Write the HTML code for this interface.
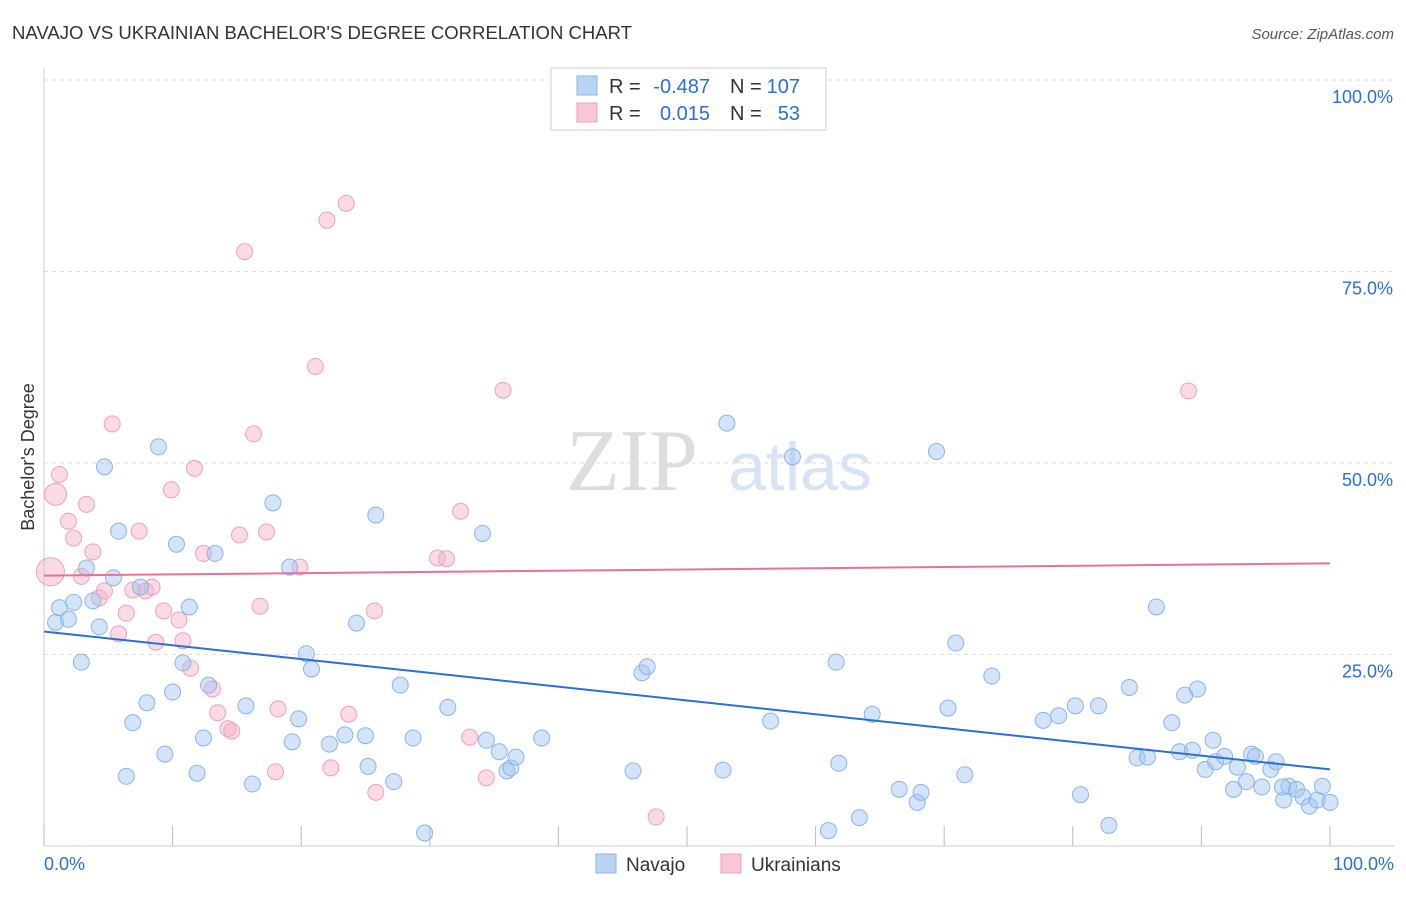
<!DOCTYPE html>
<html><head><meta charset="utf-8"><style>
body{margin:0;background:#fff;font-family:"Liberation Sans",sans-serif;}
svg text{font-family:"Liberation Sans",sans-serif;}
</style></head><body>
<svg id="chart" width="1406" height="892" xmlns="http://www.w3.org/2000/svg">
<text x="12" y="39" font-size="18" fill="#333" textLength="620" lengthAdjust="spacingAndGlyphs">NAVAJO VS UKRAINIAN BACHELOR'S DEGREE CORRELATION CHART</text>
<text x="1394" y="39" font-size="15" fill="#555" font-style="italic" text-anchor="end">Source: ZipAtlas.com</text>
<text x="34" y="457" font-size="18" fill="#333" text-anchor="middle" transform="rotate(-90 34 457)">Bachelor's Degree</text>
<g><text x="632" y="490" font-size="88" fill="#ddd" text-anchor="middle" style="font-family:'Liberation Serif',serif">ZIP</text><text x="800" y="490" font-size="68" fill="#d6e4f5" text-anchor="middle">atlas</text></g>
<g id="grid"></g><g id="pts"></g><g id="lines"></g>
<g>
<rect x="551" y="68" width="275" height="62" fill="#fff" stroke="#ddd" stroke-width="1.5"/>
<rect x="577" y="76" width="20" height="19" fill="#b9d3f5" stroke="#8ab4e8"/>
<rect x="577" y="103" width="20" height="19" fill="#f8c6d6" stroke="#f0a0b8"/>
<text x="609" y="93" font-size="20" fill="#333">R =</text>
<text x="710" y="93" font-size="20" fill="#2a6fd6" text-anchor="end">-0.487</text>
<text x="730" y="93" font-size="20" fill="#333">N =</text>
<text x="800" y="93" font-size="20" fill="#2a6fd6" text-anchor="end">107</text>
<text x="609" y="120" font-size="20" fill="#333">R =</text>
<text x="710" y="120" font-size="20" fill="#2a6fd6" text-anchor="end">0.015</text>
<text x="730" y="120" font-size="20" fill="#333">N =</text>
<text x="800" y="120" font-size="20" fill="#2a6fd6" text-anchor="end">53</text>
</g>
<g>
<rect x="596" y="854" width="20" height="19" fill="#b9d3f5" stroke="#8ab4e8"/>
<text x="626" y="871" font-size="19" fill="#333">Navajo</text>
<rect x="721" y="854" width="20" height="19" fill="#f8c6d6" stroke="#f0a0b8"/>
<text x="751" y="871" font-size="19" fill="#333">Ukrainians</text>
</g>
</svg>
<script>
const navX=[0.9,1.2,1.9,2.3,2.9,3.3,3.8,4.3,4.7,5.4,5.8,6.4,6.9,7.5,8.0,8.9,9.4,10.0,10.3,10.8,11.3,11.9,12.4,12.8,13.3,15.7,16.2,17.8,19.1,19.3,19.8,20.4,20.8,22.2,23.4,24.3,25.0,25.2,25.8,27.2,27.7,28.7,29.6,31.4,34.1,34.4,35.4,36.0,36.3,36.7,38.7,45.8,46.5,46.9,52.8,53.1,56.5,58.2,61.0,61.6,61.8,63.4,64.4,66.5,67.9,68.2,69.4,70.3,70.9,71.6,73.7,77.7,78.9,80.2,80.6,82.0,82.8,84.4,85.0,85.8,86.5,87.7,88.3,88.7,89.3,89.7,90.3,90.9,91.1,91.8,92.5,92.8,93.5,93.9,94.2,94.7,95.4,95.8,96.4,96.8,97.4,97.9,98.4,99.0,99.4,100,96.3];
const navY=[29.2,31.1,29.6,31.8,24.0,36.3,32.0,28.6,49.5,35.0,41.1,9.1,16.1,33.8,18.7,52.1,12.0,20.1,39.4,23.9,31.2,9.5,14.1,21.0,38.2,18.3,8.1,44.8,36.4,13.6,16.6,25.1,23.1,13.3,14.5,29.1,14.4,10.4,43.2,8.4,21.0,14.1,1.7,18.1,40.8,13.8,12.3,9.8,10.2,11.6,14.1,9.8,22.6,23.4,9.9,55.2,16.3,50.8,2.0,24.0,10.8,3.7,17.2,7.4,5.7,7.0,51.5,18.0,26.5,9.3,22.2,16.4,17.0,18.3,6.7,18.3,2.7,20.7,11.5,11.6,31.2,16.1,12.3,19.7,12.5,20.5,10.0,13.8,11.0,11.7,7.4,10.3,8.4,12.0,11.7,7.7,10.0,11.0,6.0,7.8,7.4,6.4,5.2,6.0,7.8,5.7,7.7];
const ukrX=[0.5,0.9,1.2,1.9,2.3,2.9,3.3,3.8,4.3,4.7,5.3,5.8,6.4,6.9,7.4,7.9,8.4,8.7,9.3,9.9,10.5,10.8,11.4,11.7,12.4,13.1,13.5,14.3,14.6,15.2,15.6,16.3,16.8,17.3,18.0,18.2,19.9,21.1,22.0,22.3,23.5,23.7,25.7,25.8,30.6,31.3,32.4,33.1,34.4,35.7,47.6,89.0];
const ukrY=[35.8,45.9,48.5,42.4,40.2,35.2,44.6,38.4,32.4,33.3,55.1,27.7,30.4,33.4,41.1,33.3,33.8,26.6,30.7,46.5,29.5,26.8,23.2,49.3,38.2,20.5,17.4,15.3,15.0,40.6,77.6,53.8,31.3,41.0,9.7,17.9,36.4,62.6,81.7,10.2,83.9,17.2,30.7,7.0,37.6,37.5,43.7,14.2,8.9,59.5,3.8,59.4];
const ukrSize=[14,11];
const navTrend=[28.0,10.0];
const ukrTrend=[35.3,36.9];
const yTicks=[100,75,50,25];
const xTicks=[0,10,20,30,40,50,60,70,80,90,100];
const NS='http://www.w3.org/2000/svg';
const sx=v=>44+v*12.86, sy=v=>846-v*7.66;
function mk(tag,attrs,parent){const e=document.createElementNS(NS,tag);for(const k in attrs)e.setAttribute(k,attrs[k]);parent.appendChild(e);return e;}
const grid=document.getElementById('grid');
const ax=mk('line',{x1:44,y1:68,x2:44,y2:846,stroke:'#ccc'},grid);


const bx=mk('line',{x1:44,y1:846,x2:1394,y2:846,stroke:'#ccc'},grid);


yTicks.forEach(t=>{
 const g=mk('line',{x1:44,y1:sy(t),x2:1394,y2:sy(t),stroke:'#ddd','stroke-dasharray':'4,4'},grid);
 
 
 const l=mk('text',{x:1393,y:sy(t)+23,'font-size':18,fill:'#2a6fd6','text-anchor':'end'},grid);
 l.textContent=t.toFixed(1)+'%';
 
 
});
xTicks.forEach(t=>{
 const k=mk('line',{x1:sx(t),y1:826,x2:sx(t),y2:846,stroke:'#bbb'},grid);
 
 
});
[[0,'0.0%','start',44],[100,'100.0%','end',1394]].forEach(a=>{
 const l=mk('text',{x:a[3],y:870,'font-size':18,fill:'#2a6fd6','text-anchor':a[2]},grid);
 l.textContent=a[1];
 
 
});
const pts=document.getElementById('pts');
ukrX.forEach((x,i)=>{
 const c=mk('circle',{cx:sx(x),cy:sy(ukrY[i]),r:ukrSize[i]||8,fill:'rgba(245,175,198,0.45)',stroke:'#f0a0b8','stroke-width':1},pts);
 
 
});
navX.forEach((x,i)=>{
 const c=mk('circle',{cx:sx(x),cy:sy(navY[i]),r:8,fill:'rgba(160,196,240,0.45)',stroke:'#8ab4e8','stroke-width':1},pts);
 
 
});
const lines=document.getElementById('lines');
const nl=mk('line',{x1:sx(0),y1:sy(navTrend[0]),x2:sx(100),y2:sy(navTrend[1]),stroke:'#2a6fd6','stroke-width':2},lines);


const ul=mk('line',{x1:sx(0),y1:sy(ukrTrend[0]),x2:sx(100),y2:sy(ukrTrend[1]),stroke:'#e8709a','stroke-width':2},lines);


</script>
</body></html>
